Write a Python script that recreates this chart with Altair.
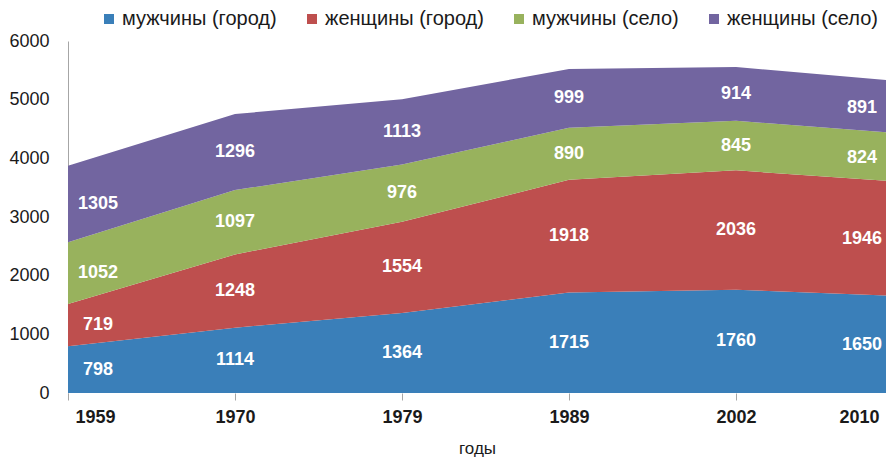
import altair as alt
import pandas as pd

years = ["1959", "1970", "1979", "1989", "2002", "2010"]
series = ["мужчины (город)", "женщины (город)", "мужчины (село)", "женщины (село)"]
men_urban = [798, 1114, 1364, 1715, 1760, 1650]
women_urban = [719, 1248, 1554, 1918, 2036, 1946]
men_rural = [1052, 1097, 976, 890, 845, 824]
women_rural = [1305, 1296, 1113, 999, 914, 891]
colors = ["#3A7FB9", "#BE4F4E", "#98B25D", "#7265A0"]

rows = []
for k, (name, vals) in enumerate(zip(series, [men_urban, women_urban, men_rural, women_rural])):
    for i, v in enumerate(vals):
        rows.append({"i": i, "year": years[i], "s": name, "order": k, "v": v})
df = pd.DataFrame(rows)

FONT = "Liberation Sans"
XMAX = 4.898
label_expr = "['1959','1970','1979','1989','2002','2010'][round(datum.value)]"

x = alt.X(
    "i:Q",
    scale=alt.Scale(domain=[0, XMAX], nice=False, zero=False),
    axis=alt.Axis(
        values=[0, 1, 2, 3, 4, XMAX],
        labelExpr=label_expr,
        title="годы",
        grid=False,
        domain=False,
        ticks=True,
        tickSize=7,
        tickColor=alt.condition("datum.value > 4.8", alt.value("transparent"), alt.value("#A6A6A6")),
        labelPadding=8,
        labelFont=FONT,
        labelFontSize=18,
        labelFontWeight="bold",
        labelColor="#1a1a1a",
        labelFlush=True,
        labelFlushOffset=-7,
        titleFont=FONT,
        titleFontSize=17,
        titleFontWeight="normal",
        titleColor="#1a1a1a",
        titlePadding=14,
    ),
)

area = alt.Chart(df).mark_area(clip=True, opacity=1).encode(
    x=x,
    y=alt.Y(
        "v:Q",
        stack="zero",
        scale=alt.Scale(domain=[0, 6000], nice=False),
        axis=alt.Axis(
            values=[0, 1000, 2000, 3000, 4000, 5000, 6000],
            format="d",
            title=None,
            grid=False,
            ticks=False,
            domain=True,
            domainColor="#A6A6A6",
            labelPadding=19,
            labelFont=FONT,
            labelFontSize=18,
            labelColor="#1a1a1a",
        ),
    ),
    color=alt.Color(
        "s:N",
        scale=alt.Scale(domain=series, range=colors),
        legend=alt.Legend(
            orient="none",
            legendX=31,
            legendY=-32,
            direction="horizontal",
            title=None,
            symbolType="square",
            symbolSize=100,
            symbolStrokeWidth=0,
            symbolOpacity=1,
            labelFont=FONT,
            labelFontSize=20,
            labelColor="#1a1a1a",
            labelOffset=3,
            columnPadding=25,
            padding=0,
        ),
    ),
    order=alt.Order("order:Q", sort="ascending"),
)

labels = alt.Chart(df).transform_stack(
    stack="v", groupby=["i"], as_=["y0", "y1"], sort=[alt.SortField("order", order="ascending")]
).transform_calculate(
    mid="(datum.y0 + datum.y1) / 2"
).mark_text(
    color="white",
    font=FONT,
    fontSize=18,
    fontWeight="bold",
    dx=alt.ExprRef("datum.i == 0 ? 30 : (datum.i == 5 ? -41 : 0)"),
).encode(
    x=alt.X("i:Q"),
    y=alt.Y("mid:Q"),
    text=alt.Text("v:Q"),
)

chart = alt.layer(area, labels).properties(
    width=818,
    height=352,
    padding={"left": 60, "top": 33, "right": 0, "bottom": 64},
    autosize=alt.AutoSizeParams(type="none"),
    background="white",
).configure_view(stroke=None)

chart.save("out.html", embed_options={"renderer": "svg", "actions": False})
